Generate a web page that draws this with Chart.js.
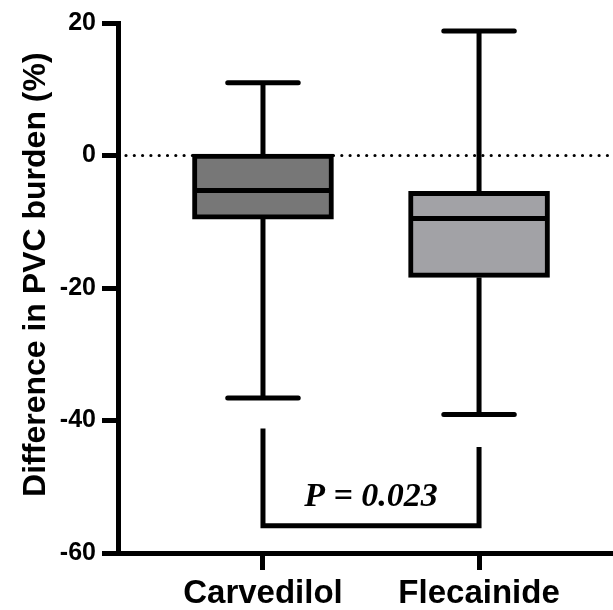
<!DOCTYPE html>
<html>
<head>
<meta charset="utf-8">
<script src="https://cdn.jsdelivr.net/npm/chart.js@4/dist/chart.umd.min.js"></script>
<style>
  html, body { margin: 0; padding: 0; background: #fff; }
  #wrap { width: 613px; height: 610px; }
</style>
</head>
<body>
<div id="wrap"><canvas id="chart"></canvas></div>
<script>
const categories = ['Carvedilol', 'Flecainide']
const positions  = [1, 2]
const whiskerMin = [-36.6, -39.1]
const q1         = [-9.6, -18.4]
const median     = [-5.3, -9.5]
const q3         = [0.2, -5.4]
const whiskerMax = [11.0, 18.8]
const boxColors  = ['#777777', '#a2a2a6']
const yTicks     = [20, 0, -20, -40, -60]

// significance bracket: left top, right top, bottom (y values), label
const bracketTops   = [-41.2, -44.0]
const bracketBottom = -55.9
const pLabel        = 'P = 0.023'
const pLabelY       = -51.6

const SANS = "'Liberation Sans', Arial, sans-serif"
const BOX_W = 141

const boxLines = {
  id: 'boxLines',
  beforeDatasetsDraw(chart) {
    const { ctx, chartArea, scales: { x, y } } = chart
    ctx.save()
    // dotted zero line
    const y0 = y.getPixelForValue(0)
    ctx.strokeStyle = '#000'
    ctx.lineWidth = 3.2
    ctx.lineCap = 'round'
    ctx.setLineDash([0, 8.3])
    ctx.beginPath()
    ctx.moveTo(chartArea.left + 8, y0)
    ctx.lineTo(chartArea.right, y0)
    ctx.stroke()
    ctx.setLineDash([])

    // whiskers + caps
    ctx.lineWidth = 5
    positions.forEach((p, i) => {
      const cx = x.getPixelForValue(p)
      ctx.lineCap = 'butt'
      ctx.beginPath()
      ctx.moveTo(cx, y.getPixelForValue(whiskerMax[i]))
      ctx.lineTo(cx, y.getPixelForValue(q3[i]))
      ctx.moveTo(cx, y.getPixelForValue(q1[i]))
      ctx.lineTo(cx, y.getPixelForValue(whiskerMin[i]))
      ctx.stroke()
      ctx.lineCap = 'round'
      ctx.beginPath()
      for (const v of [whiskerMax[i], whiskerMin[i]]) {
        const py = y.getPixelForValue(v)
        ctx.moveTo(cx - BOX_W / 4, py)
        ctx.lineTo(cx + BOX_W / 4, py)
      }
      ctx.stroke()
    })
    ctx.restore()
  },
  afterDatasetsDraw(chart) {
    const { ctx, scales: { x, y } } = chart
    ctx.save()
    ctx.strokeStyle = '#000'
    ctx.lineWidth = 5
    // medians
    positions.forEach((p, i) => {
      const cx = x.getPixelForValue(p)
      const py = y.getPixelForValue(median[i])
      ctx.beginPath()
      ctx.moveTo(cx - BOX_W / 2 + 3, py)
      ctx.lineTo(cx + BOX_W / 2 - 3, py)
      ctx.stroke()
    })
    // bracket
    const xl = x.getPixelForValue(positions[0])
    const xr = x.getPixelForValue(positions[1])
    const yb = y.getPixelForValue(bracketBottom)
    ctx.lineCap = 'butt'
    ctx.lineJoin = 'miter'
    ctx.beginPath()
    ctx.moveTo(xl, y.getPixelForValue(bracketTops[0]))
    ctx.lineTo(xl, yb)
    ctx.lineTo(xr, yb)
    ctx.lineTo(xr, y.getPixelForValue(bracketTops[1]))
    ctx.stroke()
    // p value
    ctx.fillStyle = '#000'
    ctx.font = "italic bold 34px 'Liberation Serif', 'Times New Roman', serif"
    ctx.textAlign = 'center'
    ctx.textBaseline = 'middle'
    ctx.fillText(pLabel, (xl + xr) / 2, y.getPixelForValue(pLabelY))
    ctx.restore()
  }
}

new Chart(document.getElementById('chart'), {
  type: 'bar',
  data: {
    datasets: [{
      data: categories.map((c, i) => ({ x: positions[i], y: [q1[i], q3[i]] })),
      backgroundColor: boxColors,
      borderColor: '#000',
      borderWidth: 5,
      borderSkipped: false,
      barThickness: BOX_W,
    }]
  },
  options: {
    responsive: true,
    maintainAspectRatio: false,
    animation: false,
    layout: { padding: { top: 23, right: 0, bottom: 0, left: 0 } },
    plugins: { legend: { display: false }, tooltip: { enabled: false } },
    scales: {
      x: {
        type: 'linear',
        offset: false,
        min: 0.329,
        max: 2.62,
        afterBuildTicks: s => { s.ticks = positions.map(v => ({ value: v })) },
        afterFit: s => { s.height = 57 },
        grid: { offset: false, drawOnChartArea: false, drawTicks: true, tickLength: 17, tickWidth: 5, tickColor: '#000' },
        border: { display: true, width: 5, color: '#000' },
        ticks: {
          color: '#000',
          padding: 4,
          maxRotation: 0,
          font: { family: SANS, size: 33, weight: 'bold' },
          callback: v => categories[positions.indexOf(v)] ?? ''
        }
      },
      y: {
        min: -60,
        max: 20,
        afterBuildTicks: s => { s.ticks = yTicks.map(v => ({ value: v })) },
        afterFit: s => { s.width = 118 },
        grid: { drawOnChartArea: false, drawTicks: true, tickLength: 16, tickWidth: 5, tickColor: '#000' },
        border: { display: true, width: 5, color: '#000' },
        ticks: {
          color: '#000',
          padding: 6,
          font: { family: SANS, size: 25, weight: 'bold' }
        },
        title: {
          display: true,
          text: '   Difference in PVC burden (%)',
          color: '#000',
          padding: { top: 17, bottom: 0 },
          font: { family: SANS, size: 32, weight: 'bold' }
        }
      }
    }
  },
  plugins: [boxLines]
})
</script>
</body>
</html>
